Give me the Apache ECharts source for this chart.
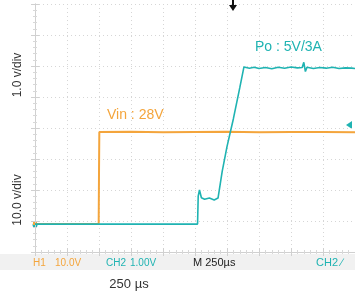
<!DOCTYPE html>
<html>
<head>
<meta charset="utf-8">
<script src="https://cdn.jsdelivr.net/npm/echarts@6/dist/echarts.min.js"></script>
<style>
  html, body { margin: 0; padding: 0; background: #fff; }
  #main { width: 355px; height: 295px; }
</style>
</head>
<body>
<div id="main"></div>
<script>
// time in divisions (10 div, 250us/div), level in divisions (8 div)
let vinTime = [0, 1.99, 2.0, 2.01, 3, 4, 5, 6, 7, 8, 9, 10];
let vinLevel = [0.9, 0.9, 2.5, 3.87, 3.88, 3.86, 3.87, 3.88, 3.86, 3.87, 3.87, 3.86];

let poTime = [0, 5.08, 5.1, 5.14, 5.2, 5.3, 5.45, 5.6, 5.72, 5.85, 6.0, 6.2, 6.4, 6.53,
    6.7, 6.85, 7.0, 7.2, 7.4, 7.6, 7.8, 8.0, 8.2, 8.35, 8.4, 8.45, 8.5, 8.7, 8.9, 9.1, 9.3, 9.5, 9.7, 9.9, 10];
let poLevel = [0.9, 0.9, 1.8, 2.0, 1.75, 1.7, 1.74, 1.68, 1.74, 2.6, 3.4, 4.3, 5.3, 5.97,
    5.93, 5.96, 5.92, 5.95, 5.91, 5.96, 5.93, 5.97, 5.94, 5.95, 6.12, 5.82, 5.96, 5.92, 5.95, 5.93, 5.96, 5.92, 5.94, 5.93, 5.92];

let orange = '#F4A53C', cyan = '#1FB3B2';
let font = "'Liberation Sans', Arial, sans-serif";

function zip(a, b) {
    let out = [];
    for (let i = 0; i < a.length; i++) out.push([a[i], b[i]]);
    return out;
}

let myChart = echarts.init(document.getElementById('main'));

// 坐标轴公共样式
let axisCommon = {
    type: 'value',
    min: 0,
    interval: 1,
    axisLine: {show: true, lineStyle: {color: '#d0d0d0', width: 1}},
    axisTick: {show: true, inside: true, length: 4, lineStyle: {color: '#d0d0d0'}},
    minorTick: {show: true, splitNumber: 5, length: 2, lineStyle: {color: '#d8d8d8'}},
    axisLabel: {show: false},
    splitLine: {show: true, lineStyle: {color: '#d6d6d6', type: [1, 3], width: 1}}
};

let option = {
    animation: false,
    grid: {left: 35, right: 0, top: 4, bottom: 43},
    xAxis: [
        Object.assign({}, axisCommon, {max: 10, position: 'bottom'}),
        Object.assign({}, axisCommon, {max: 10, position: 'top', splitLine: {show: false}})
    ],
    yAxis: [
        Object.assign({}, axisCommon, {max: 8, position: 'left'}),
        Object.assign({}, axisCommon, {max: 8, position: 'right', splitLine: {show: false}})
    ],
    series: [
        {
            type: 'line',
            data: zip(vinTime, vinLevel),
            showSymbol: false,
            lineStyle: {color: orange, width: 2}
        },
        {
            type: 'line',
            data: zip(poTime, poLevel),
            showSymbol: false,
            lineStyle: {color: cyan, width: 1.6}
        }
    ],
    graphic: [
        // 底部状态栏
        {type: 'rect', shape: {x: 0, y: 254, width: 355, height: 16}, style: {fill: '#f1f1f1'}, z: -1},
        {type: 'text', x: 33, y: 263, style: {text: 'H1', fill: orange, font: '10px ' + font, verticalAlign: 'middle'}},
        {type: 'text', x: 55, y: 263, style: {text: '10.0V', fill: orange, font: '10px ' + font, verticalAlign: 'middle'}},
        {type: 'text', x: 106, y: 263, style: {text: 'CH2', fill: cyan, font: '10px ' + font, verticalAlign: 'middle'}},
        {type: 'text', x: 130, y: 263, style: {text: '1.00V', fill: cyan, font: '10px ' + font, verticalAlign: 'middle'}},
        {type: 'text', x: 193, y: 263, style: {text: 'M 250\u00b5s', fill: '#222', font: '11px ' + font, verticalAlign: 'middle'}},
        {type: 'text', x: 316, y: 263, style: {text: 'CH2 \u2215', fill: cyan, font: '11px ' + font, verticalAlign: 'middle'}},
        {type: 'text', x: 129, y: 284, style: {text: '250 \u00b5s', fill: '#333', font: '13px ' + font, align: 'center', verticalAlign: 'middle'}},
        // 纵轴说明
        {type: 'text', x: 18, y: 75, rotation: Math.PI / 2, style: {text: '1.0 v/div', fill: '#333', font: '12px ' + font, align: 'center', verticalAlign: 'middle'}},
        {type: 'text', x: 18, y: 200, rotation: Math.PI / 2, style: {text: '10.0 v/div', fill: '#333', font: '12px ' + font, align: 'center', verticalAlign: 'middle'}},
        // 曲线标注
        {type: 'text', x: 107, y: 115, style: {text: 'Vin : 28V', fill: orange, font: '14px ' + font, verticalAlign: 'middle'}},
        {type: 'text', x: 255, y: 47, style: {text: 'Po : 5V/3A', fill: cyan, font: '14px ' + font, verticalAlign: 'middle'}},
        // 触发标记
        {type: 'polygon', shape: {points: [[229, 5], [237, 5], [233, 11]]}, style: {fill: '#111'}},
        {type: 'rect', shape: {x: 232, y: 0, width: 2, height: 6}, style: {fill: '#111'}},
        {type: 'polygon', shape: {points: [[346, 125], [352, 121], [352, 129]]}, style: {fill: cyan}},
        {type: 'circle', shape: {cx: 35, cy: 225, r: 2.5}, style: {fill: cyan}},
        {type: 'rect', shape: {x: 33, y: 222, width: 4, height: 3}, style: {fill: orange}}
    ]
};
myChart.setOption(option);
</script>
</body>
</html>
